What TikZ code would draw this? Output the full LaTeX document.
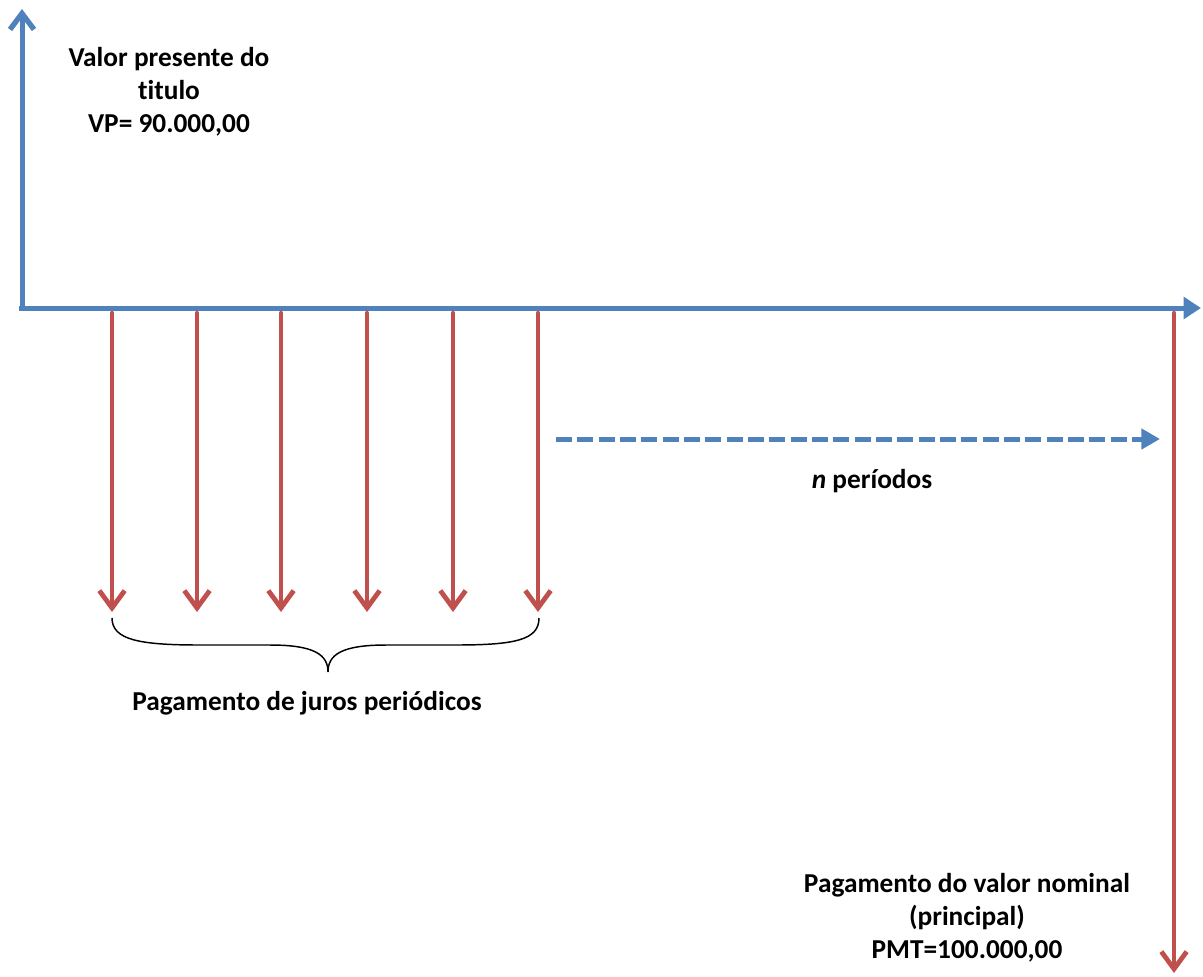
\documentclass[tikz,border=0pt]{standalone}
\usepackage{fontspec}
\setmainfont{Carlito}[Ligatures=NoCommon]
\usetikzlibrary{arrows.meta}
\definecolor{axisblue}{HTML}{4F81BD}
\definecolor{payred}{HTML}{C0504D}
\begin{document}
\begin{tikzpicture}[x=0.75pt,y=-0.75pt,
  axis/.style={draw=axisblue,line width=3.75pt},
  pay/.style={draw=payred,line width=3.2pt,line cap=round,
    -{Straight Barb[length=13pt,width=19pt,line width=3.6pt]}},
  lbl/.style={align=center,font=\fontsize{20.5}{24.75}\selectfont\bfseries,inner sep=0pt},
  bracestyle/.style={draw=black,line width=1.1pt}]
\useasboundingbox (0,0) rectangle (1203,976);
% coordinates
\coordinate (O) at (22,308);
\coordinate (Ytop) at (22,9);
\coordinate (Xend) at (1201,308);
% axes
\draw[axis,-{Straight Barb[length=12pt,width=18pt,line width=4pt]}] (O) -- (Ytop);
\draw[axis,-{Triangle[length=13pt,width=16pt]}] ([xshift=-2pt]O) -- (Xend);
% periodic payments
\foreach \i/\x in {1/112,2/197,3/281,4/367,5/453,6/538}{
  \coordinate (t\i) at (\x,313);
  \coordinate (b\i) at (\x,612);
  \draw[pay] (t\i) -- (b\i);
}
% principal
\coordinate (tP) at (1174,313);
\coordinate (bP) at (1174,973);
\draw[pay] (tP) -- (bP);
% dashed n periods
\coordinate (d1) at (556,439);
\coordinate (d2) at (1160,439);
\draw[draw=axisblue,line width=3.75pt,dash pattern=on 12pt off 4pt,
  -{Triangle[length=14pt,width=15pt]}] (d1) -- (d2);
% brace
\coordinate (brL) at (112,618);
\coordinate (brR) at (539,618);
\coordinate (brM) at (328,672);
\draw[bracestyle] (brL) .. controls (112,640) and (140,645) .. (200,645)
  -- (270,645) .. controls (315,645) and (328,655) .. (brM)
  .. controls (328,655) and (341,645) .. (386,645)
  -- (455,645) .. controls (515,645) and (539,640) .. (brR);
% labels
\node[lbl] (vp) at (169,92) {Valor presente do\\titulo\\VP= 90.000,00};
\node[lbl] (np) at (872,481) {\textit{n} períodos};
\node[lbl] (juros) at (307,703) {Pagamento de juros periódicos};
\node[lbl] (pmt) at (967,918) {Pagamento do valor nominal\\(principal)\\PMT=100.000,00};
\end{tikzpicture}
\end{document}
